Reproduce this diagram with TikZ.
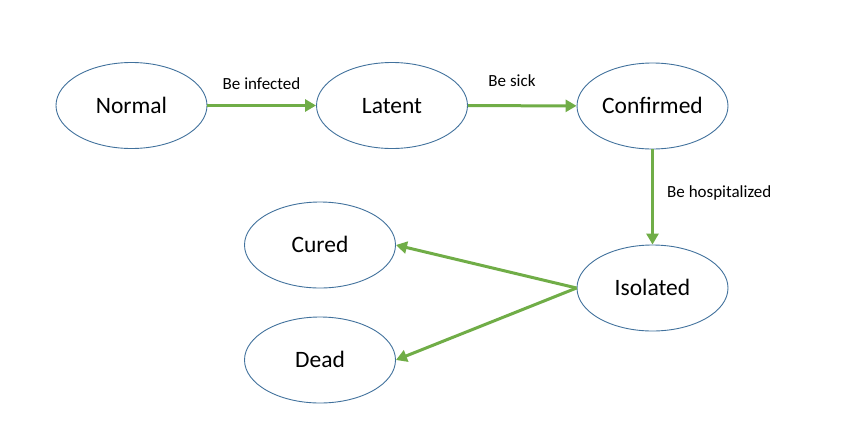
\documentclass[tikz,border=0pt]{standalone}
\usepackage{fontspec}
\setmainfont{Carlito}
\usetikzlibrary{shapes.geometric,arrows.meta}
\definecolor{edgeblue}{HTML}{41719C}
\definecolor{arrgreen}{HTML}{70AD47}
\begin{document}
\begin{tikzpicture}[x=1pt,y=-1pt,
  state/.style={ellipse,draw=edgeblue,line width=0.9pt,minimum width=151pt,minimum height=86pt,inner sep=0pt,text height=15pt,text depth=0pt,font=\fontsize{23.5}{26}\selectfont},
  flow/.style={draw=arrgreen,line width=3pt,-{Triangle[length=11pt,width=12pt]}},
  lbl/.style={font=\fontsize{17}{20}\selectfont,inner sep=0pt}]
\useasboundingbox (0,0) rectangle (848,442);
\node[state] (normal) at (131.5,105.5) {Normal};
\node[state] (latent) at (392,105.5) {Latent};
\node[state] (confirmed) at (652.5,106) {Confirmed};
\node[state] (isolated) at (652.5,288) {Isolated};
\node[state] (cured) at (320,245) {Cured};
\node[state] (dead) at (320,360) {Dead};
\draw[flow] (normal) -- (latent);
\draw[flow] (latent) -- (confirmed);
\draw[flow] (confirmed) -- (isolated);
\draw[flow] (isolated.west) -- (cured.east);
\draw[flow] (isolated.west) -- (dead.east);
\node[lbl] (l1) at (261.5,84) {Be infected};
\node[lbl] (l2) at (512,81) {Be sick};
\node[lbl,anchor=west] (l3) at (667,193) {Be hospitalized};
\end{tikzpicture}
\end{document}
